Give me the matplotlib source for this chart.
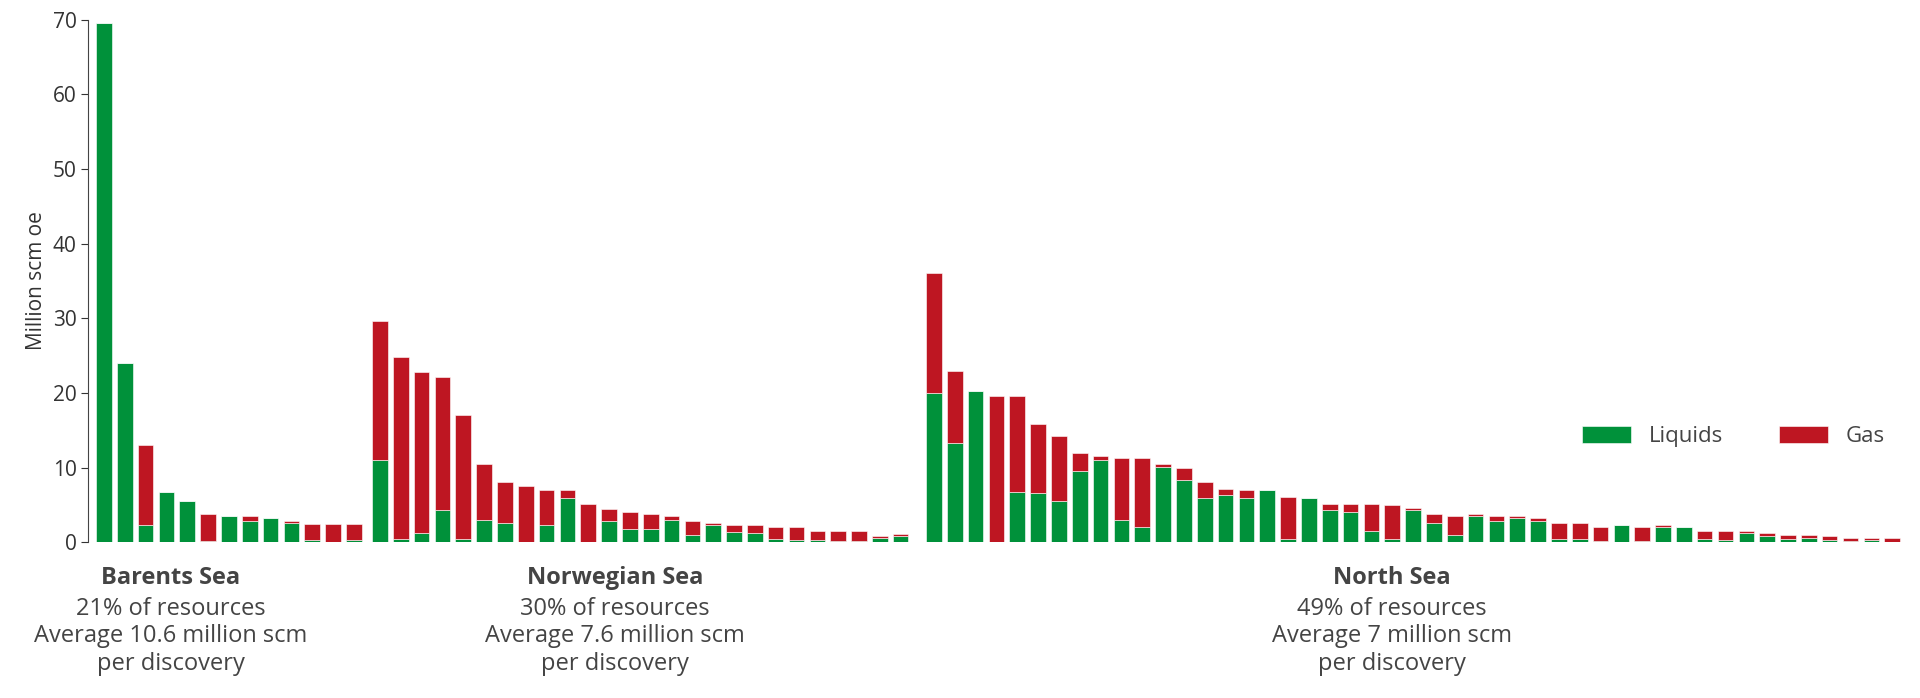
import matplotlib
matplotlib.use("Agg")
import matplotlib.pyplot as plt
import numpy as np

plt.rcParams["font.family"] = ["Open Sans", "DejaVu Sans"]

# totals and liquids per discovery, million scm oe
barents_total = [69.5, 24, 13, 6.7, 5.5, 3.8, 3.5, 3.5, 3.2, 2.9, 2.4, 2.4, 2.4]
barents_liq = [69.5, 24, 2.3, 6.7, 5.5, 0.2, 3.5, 2.9, 3.2, 2.6, 0.3, 0.0, 0.3]
norw_total = [29.7, 24.8, 22.8, 22.2, 17, 10.5, 8.1, 7.6, 7, 7, 5.2, 4.4, 4.1,
              3.8, 3.5, 2.9, 2.6, 2.3, 2.3, 2.1, 2.1, 1.5, 1.5, 1.5, 0.9, 1.1]
norw_liq = [11, 0.5, 1.2, 4.3, 0.4, 3, 2.6, 0, 2.3, 5.9, 0, 2.9, 1.8,
            1.8, 3, 1, 2.3, 1.4, 1.2, 0.5, 0.3, 0.3, 0.2, 0.2, 0.6, 0.8]
north_total = [36, 23, 20.2, 19.6, 19.6, 15.9, 14.2, 11.9, 11.6, 11.3, 11.3, 10.5,
               9.9, 8.1, 7.2, 7, 7, 6.1, 5.9, 5.2, 5.2, 5.2, 5, 4.6, 3.8, 3.5,
               3.8, 3.5, 3.5, 3.2, 2.6, 2.6, 2.1, 2.3, 2, 2.3, 2, 1.5, 1.5, 1.5,
               1.2, 1, 1, 0.8, 0.6, 0.6, 0.6]
north_liq = [20, 13.3, 20.2, 0, 6.7, 6.6, 5.5, 9.6, 11, 3, 2, 10.1,
             8.3, 5.9, 6.4, 5.9, 7, 0.5, 5.9, 4.3, 4.1, 1.5, 0.5, 4.3, 2.6, 1,
             3.5, 2.9, 3.2, 2.9, 0.5, 0.5, 0.2, 2.3, 0.2, 2, 2, 0.5, 0.3, 1.2,
             0.9, 0.5, 0.6, 0.3, 0.2, 0.3, 0.1]
group_names = ["Barents Sea", "Norwegian Sea", "North Sea"]
group_notes = ["21% of resources\nAverage 10.6 million scm\nper discovery",
               "30% of resources\nAverage 7.6 million scm\nper discovery",
               "49% of resources\nAverage 7 million scm\nper discovery"]

GREEN = "#00913a"
RED = "#be1622"

groups = [(barents_total, barents_liq), (norw_total, norw_liq), (north_total, north_liq)]
gaps = [0, 0.25, 0.6]

fig = plt.figure(figsize=(19.2, 6.98), dpi=100)
ax = fig.add_axes([0.046, 0.223, 0.946, 0.749])

start = 0.0
centers = []
for (tot, liq), g in zip(groups, gaps):
    start += g
    x = start + np.arange(len(tot))
    liq = np.array(liq)
    gas = np.array(tot) - liq
    ax.bar(x, liq, width=0.75, color=GREEN, edgecolor="white", linewidth=0.4,
           label="Liquids" if g == 0 else None)
    ax.bar(x, gas, bottom=liq, width=0.75, color=RED, edgecolor="white", linewidth=0.4,
           label="Gas" if g == 0 else None)
    centers.append(x)
    start = x[-1] + 1

ax.set_xlim(-0.75, start - 0.4)
ax.set_ylim(0, 70)
ax.set_yticks(range(0, 71, 10))
ax.tick_params(axis="y", labelsize=15, colors="#333333", length=5)
ax.set_xticks([])
for s in ["top", "right", "bottom"]:
    ax.spines[s].set_visible(False)
ax.spines["left"].set_color("#444444")
ax.set_ylabel("Million scm oe", fontsize=15, color="#333333")

# group labels under the axis
label_x = [centers[0][4.5 if False else 4], centers[1][12], centers[2][23]]
label_x = [np.mean(centers[0][:10]) - 1.3, centers[1][12] - 0.7, centers[2][22]]
for lx, name, note in zip(label_x, group_names, group_notes):
    ax.text(lx, -3.2, name, ha="center", va="top", fontsize=17, fontweight="bold",
            color="#444444")
    ax.text(lx, -7.3, note, ha="center", va="top", fontsize=17, color="#444444",
            linespacing=1.2)

ax.legend(loc="center right", bbox_to_anchor=(1.0, 0.203), ncol=2, frameon=False,
          fontsize=16, handlelength=2.2, handleheight=0.8, columnspacing=2.5,
          labelcolor="#444444")

fig.savefig("out.png", dpi=100)
